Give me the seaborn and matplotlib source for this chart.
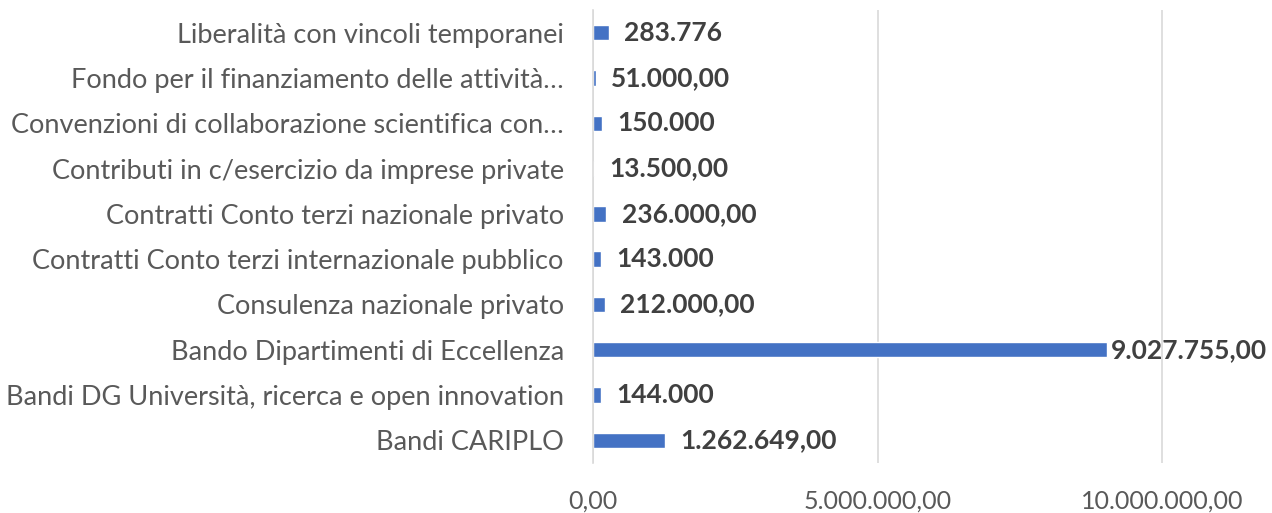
import numpy as np
import pandas as pd
import seaborn as sns
import matplotlib.pyplot as plt

# categories top -> bottom as shown in the chart
categories = [
    "Liberalità con vincoli temporanei",
    "Fondo per il finanziamento delle attività…",
    "Convenzioni di collaborazione scientifica con…",
    "Contributi in c/esercizio da imprese private",
    "Contratti Conto terzi nazionale privato",
    "Contratti Conto terzi internazionale pubblico",
    "Consulenza nazionale privato",
    "Bando Dipartimenti di Eccellenza",
    "Bandi DG Università, ricerca e open innovation",
    "Bandi CARIPLO",
]
values = [283776, 51000, 150000, 13500, 236000, 143000, 212000, 9027755, 144000, 1262649]
value_labels = [
    "283.776", "51.000,00", "150.000", "13.500,00", "236.000,00",
    "143.000", "212.000,00", "9.027.755,00", "144.000", "1.262.649,00",
]
tick_values = [0, 5000000, 10000000]
tick_labels = ["0,00", "5.000.000,00", "10.000.000,00"]

df = pd.DataFrame({"categoria": categories, "valore": values})

sns.set_theme(style="white")
plt.rcParams["font.family"] = ["Lato", "DejaVu Sans"]

fig = plt.figure(figsize=(12.72, 5.13), dpi=100)
ax = fig.add_axes([593 / 1272, 1 - 463 / 513, 1 - 593 / 1272, 453 / 513])

sns.barplot(data=df, x="valore", y="categoria", orient="h", color="#4472C4",
            saturation=1, width=0.34, ax=ax)

ax.set_xlim(0, 11.93e6)
ax.set_xticks(tick_values)
ax.set_xticklabels(tick_labels)
ax.xaxis.grid(True, color="#D9D9D9", linewidth=1.2)
ax.set_axisbelow(True)
ax.tick_params(axis="y", length=0, pad=21, labelsize=19.5, labelcolor="#595959")
ax.tick_params(axis="x", length=0, pad=19, labelsize=18, labelcolor="#595959")
ax.set_xlabel("")
ax.set_ylabel("")
for side in ["top", "right", "bottom"]:
    ax.spines[side].set_visible(False)
ax.spines["left"].set_color("#D9D9D9")
ax.spines["left"].set_linewidth(1.2)

for i, (v, lab) in enumerate(zip(values, value_labels)):
    off = 3 if v > 0.7 * ax.get_xlim()[1] else 11
    ax.annotate(lab, (v, i), xytext=(off, 0), textcoords="offset points",
                ha="left", va="center", fontsize=19, fontweight="bold",
                color="#404040", annotation_clip=False)

plt.savefig("out.png", dpi=100)
